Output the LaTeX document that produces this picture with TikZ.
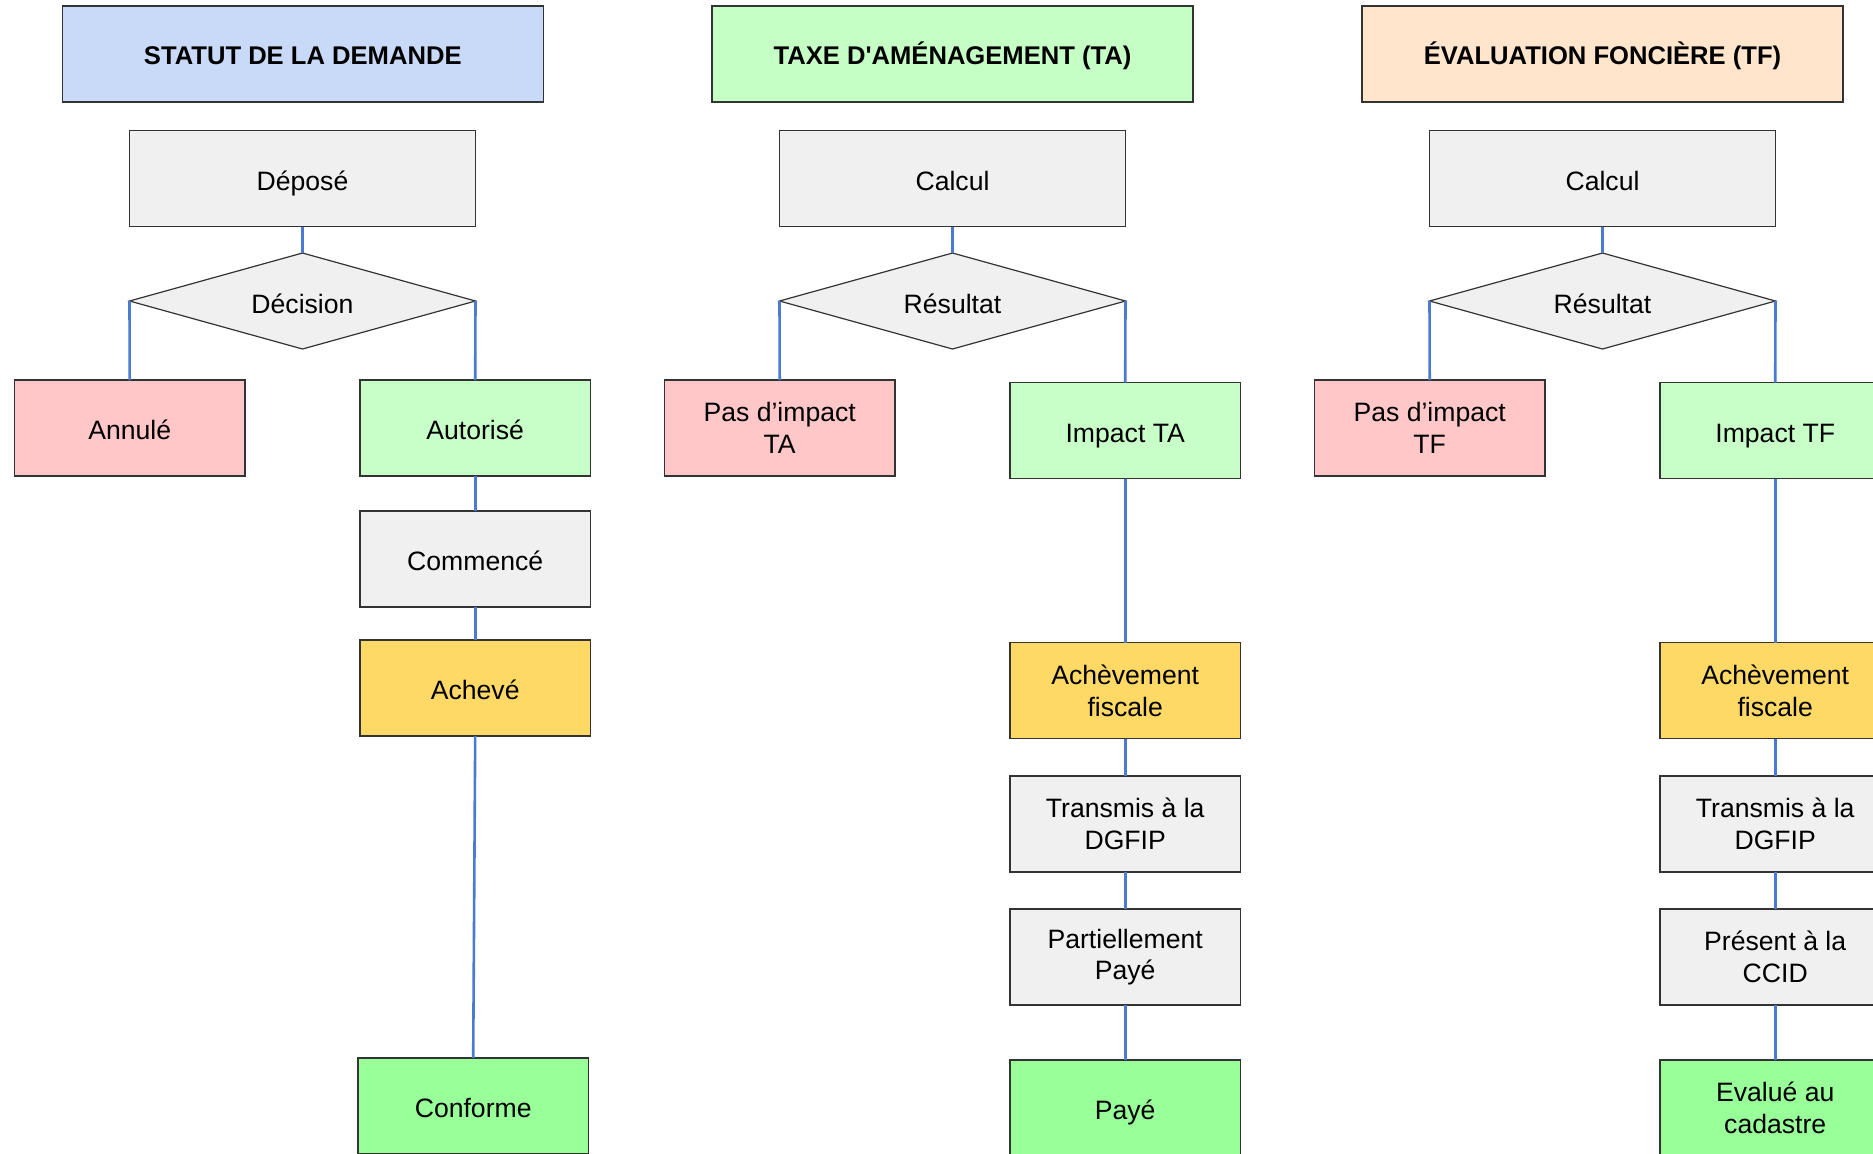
\documentclass[tikz,border=0pt]{standalone}
\usepackage{fontspec}
\setmainfont{Liberation Sans}
\usetikzlibrary{shapes.geometric}
\definecolor{titleblue}{HTML}{C9DAF8}
\definecolor{titlegreen}{HTML}{C6FFC6}
\definecolor{titleorange}{HTML}{FFE5CC}
\definecolor{boxgray}{HTML}{F0F0F0}
\definecolor{boxpink}{HTML}{FFC7C7}
\definecolor{boxgreen}{HTML}{C8FFC8}
\definecolor{boxyellow}{HTML}{FFD966}
\definecolor{boxbright}{HTML}{99FF99}
\definecolor{boxline}{HTML}{333333}
\definecolor{linkblue}{HTML}{4A7BD0}
\begin{document}
\begin{tikzpicture}[x=0.5pt,y=-0.5pt,
  base/.style={draw=boxline,line width=0.75pt,inner sep=0pt,outer sep=0pt,align=center,
    font=\fontsize{13.3}{15.8}\selectfont},
  oneline/.style={text height=11.8pt,text depth=0pt},
  titlebox/.style={base,minimum width=240.5pt,minimum height=48pt,
    font=\fontsize{12.8}{15}\selectfont\bfseries,text height=10.2pt,text depth=0pt},
  widebox/.style={base,fill=boxgray,minimum width=173pt,minimum height=48pt},
  smallbox/.style={base,minimum width=115.25pt,minimum height=48pt},
  decision/.style={base,diamond,fill=boxgray,minimum width=173pt,minimum height=48pt,
    line width=0.6pt,text height=12.6pt,text depth=0pt},
  link/.style={draw=linkblue,line width=1.3pt}]
\clip (0,0) rectangle (1873,1153);
\useasboundingbox (0,0) rectangle (1873,1153);

% Column 1
\node[titlebox,fill=titleblue] (t1) at (302.8,54) {STATUT DE LA DEMANDE};
\node[widebox,oneline] (depose) at (302.5,178.5) {Déposé};
\node[decision] (decision) at (302.5,301) {\makebox[0pt]{Décision}};
\node[smallbox,oneline,fill=boxpink] (annule) at (129.7,428) {Annulé};
\node[smallbox,oneline,fill=boxgreen] (autorise) at (475.2,428) {Autorisé};
\node[smallbox,oneline,fill=boxgray] (commence) at (475.2,559) {Commencé};
\node[smallbox,oneline,fill=boxyellow] (acheve) at (475.2,688) {Achevé};
\node[smallbox,oneline,fill=boxbright] (conforme) at (473.2,1106) {Conforme};

% Column 2
\node[titlebox,fill=titlegreen] (t2) at (952.5,54) {TAXE D\textquotesingle AMÉNAGEMENT (TA)};
\node[widebox,oneline] (calculta) at (952.5,178.5) {Calcul};
\node[decision] (resta) at (952.5,301) {\makebox[0pt]{Résultat}};
\node[smallbox,fill=boxpink] (pasta) at (779.7,428) {Pas d’impact\\TA};
\node[smallbox,oneline,fill=boxgreen] (impta) at (1125.2,430.7) {Impact TA};
\node[smallbox,fill=boxyellow] (achta) at (1125.2,690.6) {Achèvement\\fiscale};
\node[smallbox,fill=boxgray] (transta) at (1125.2,824) {Transmis à la\\DGFIP};
\node[smallbox,fill=boxgray] (partta) at (1125.2,957) {Partiellement\\Payé};
\node[smallbox,oneline,fill=boxbright] (paye) at (1125.2,1108) {Payé};

% Column 3
\node[titlebox,fill=titleorange] (t3) at (1602.5,54) {ÉVALUATION FONCIÈRE (TF)};
\node[widebox,oneline] (calcultf) at (1602.5,178.5) {Calcul};
\node[decision] (restf) at (1602.5,301) {\makebox[0pt]{Résultat}};
\node[smallbox,fill=boxpink] (pastf) at (1429.7,428) {Pas d’impact\\TF};
\node[smallbox,oneline,fill=boxgreen] (imptf) at (1775.2,430.7) {Impact TF};
\node[smallbox,fill=boxyellow] (achtf) at (1775.2,690.6) {Achèvement\\fiscale};
\node[smallbox,fill=boxgray] (transtf) at (1775.2,824) {Transmis à la\\DGFIP};
\node[smallbox,fill=boxgray] (prestf) at (1775.2,957) {Présent à la\\CCID};
\node[smallbox,fill=boxbright] (evalue) at (1775.2,1108) {Evalué au\\cadastre};

% Connectors column 1
\draw[link] (depose.south) -- (decision.north);
\draw[link] (decision.west) -- (annule.north);
\draw[link] (decision.east) -- (autorise.north);
\draw[link] (autorise.south) -- (commence.north);
\draw[link] (commence.south) -- (acheve.north);
\draw[link] (acheve.south) -- (conforme.north);

% Connectors column 2
\draw[link] (calculta.south) -- (resta.north);
\draw[link] (resta.west) -- (pasta.north);
\draw[link] (resta.east) -- (impta.north);
\draw[link] (impta.south) -- (achta.north);
\draw[link] (achta.south) -- (transta.north);
\draw[link] (transta.south) -- (partta.north);
\draw[link] (partta.south) -- (paye.north);

% Connectors column 3
\draw[link] (calcultf.south) -- (restf.north);
\draw[link] (restf.west) -- (pastf.north);
\draw[link] (restf.east) -- (imptf.north);
\draw[link] (imptf.south) -- (achtf.north);
\draw[link] (achtf.south) -- (transtf.north);
\draw[link] (transtf.south) -- (prestf.north);
\draw[link] (prestf.south) -- (evalue.north);
\end{tikzpicture}
\end{document}
